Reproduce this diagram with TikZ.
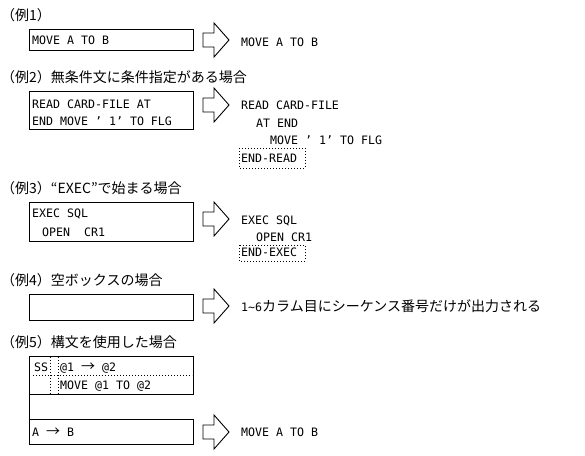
\documentclass[tikz,border=0pt]{standalone}
\usepackage{fontspec}
\usepackage{tikz}
\usetikzlibrary{positioning, calc}
\newfontfamily\cjk{Noto Sans CJK JP}
\newfontfamily\mono{DejaVu Sans Mono}
\newcommand{\jpf}{\cjk\fontsize{14}{16}\selectfont}
\newcommand{\codef}{\mono\fontsize{11.6}{14}\selectfont}
\newcommand{\fq}{\makebox[14pt][l]{’}}
\newcommand{\fwarrow}{{\jpf →}}

\begin{document}
\begin{tikzpicture}[x=1pt, y=-1pt,
    codebox/.style={draw, line width=0.9pt, inner sep=0pt, minimum width=164pt, anchor=north west},
    code/.style={font=\codef, anchor=base west, inner sep=0pt},
    title/.style={font=\jpf, anchor=base west, inner sep=0pt},
    dotbox/.style={draw, line width=0.9pt, dash pattern=on 0.9pt off 2.1pt},
    bigarrow/.pic={\draw[line width=0.9pt] (0,-7) -- (11,-7) -- (11,-17) -- (26,0) -- (11,17) -- (11,7) -- (0,7) -- cycle;}]
    \useasboundingbox (0,0) rectangle (585,455);

    % 1. 例1：単純な文
    \node[title] (t1) at (1,20) {（例1）};
    \node[codebox, minimum height=21pt] (box1) at (29,29) {};
    \node[code] (c1) at (32,44) {MOVE A TO B};
    \pic at (203,40) {bigarrow};
    \node[code] (r1) at (241,46) {MOVE A TO B};

    % 2. 例2：無条件文に条件指定
    \node[title] (t2) at (1,82) {（例2）無条件文に条件指定がある場合};
    \node[codebox, minimum height=38pt] (box2) at (29,91) {};
    \node[code] (c2a) at (32,108) {READ CARD-FILE AT};
    \node[code] (c2b) at (32,125) {END MOVE \fq1\fq TO FLG};
    \pic at (203,105) {bigarrow};
    \node[code] (r2a) at (241,109) {READ CARD-FILE};
    \node[code] (r2b) at (256,127) {AT END};
    \node[code] (r2c) at (270,144) {MOVE \fq1\fq TO FLG};
    \node[code] (r2d) at (241,162) {END-READ};
    \draw[dotbox] (239,148) rectangle (305,168);

    % 3. 例3：EXECで始まる場合
    \node[title] (t3) at (1,193) {（例3）“EXEC”で始まる場合};
    \node[codebox, minimum height=39pt] (box3) at (29,202) {};
    \node[code] (c3a) at (32,217) {EXEC SQL};
    \node[code] (c3b) at (42,236) {OPEN\ \ CR1};
    \pic at (203,219) {bigarrow};
    \node[code] (r3a) at (241,224) {EXEC SQL};
    \node[code] (r3b) at (256,241) {OPEN CR1};
    \node[code] (r3c) at (241,256) {END-EXEC};
    \draw[dotbox] (239,245) rectangle (305,261);

    % 4. 例4：空ボックス
    \node[title] (t4) at (1,285) {（例4）空ボックスの場合};
    \node[codebox, minimum height=26pt] (box4) at (29,294) {};
    \pic at (203,306) {bigarrow};
    \node[code] (r4) at (241,311) {1\textasciitilde6{\jpf カラム目にシーケンス番号だけが出力される}};

    % 5. 例5：構文を使用
    \node[title] (t5) at (1,347) {（例5）構文を使用した場合};
    \node[codebox, minimum height=38pt] (box5a) at (29,356) {};
    \node[codebox, minimum height=25pt] (box5b) at (29,419) {};
    \draw[line width=0.9pt] (box5a.south west) -- (box5b.north west);
    \draw[dotbox] (50,357) -- (50,394);
    \draw[dotbox] (58,357) -- (58,394);
    \draw[dotbox] (33,375) -- (192,375);
    \node[code] (c5a) at (34,371) {SS};
    \node[code] (c5b) at (60,371) {@1 \fwarrow\ @2};
    \node[code] (c5c) at (60,389) {MOVE @1 TO @2};
    \node[code] (c5d) at (32,436) {A \fwarrow\ B};
    \pic at (203,432) {bigarrow};
    \node[code] (r5) at (241,436) {MOVE A TO B};
\end{tikzpicture}
\end{document}
